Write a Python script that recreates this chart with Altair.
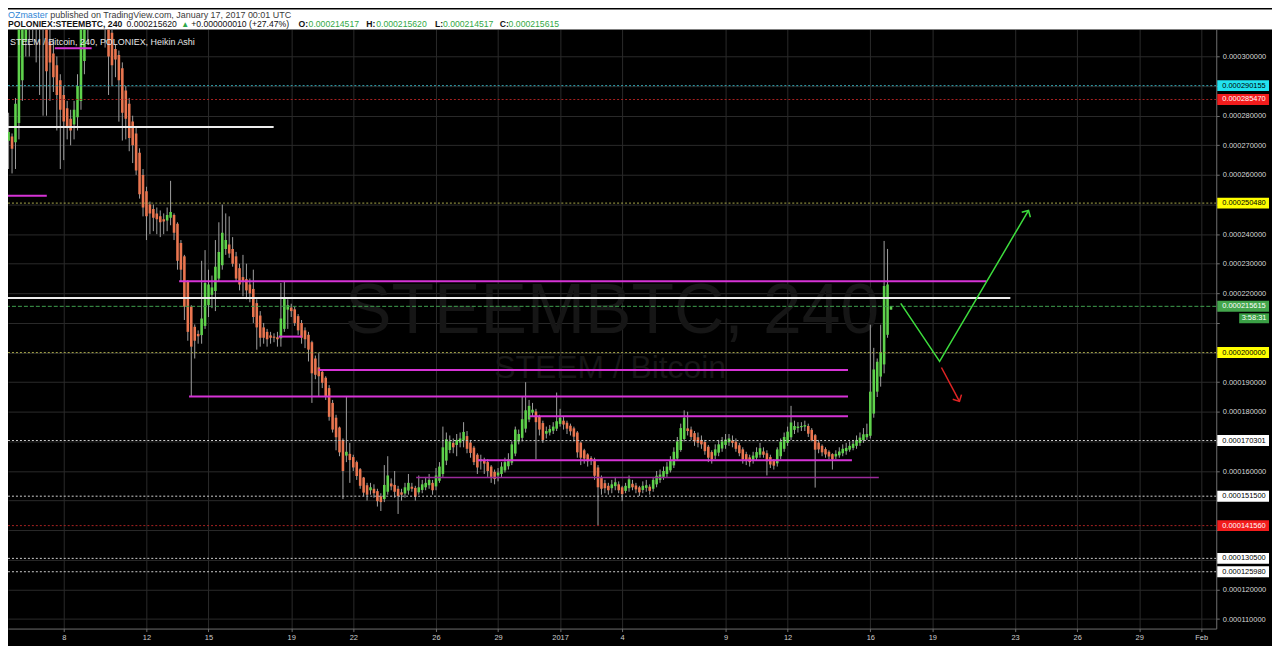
import json
import altair as alt
import pandas as pd

# ---------------- Heikin Ashi 4h candles, prices in 1e-6 BTC ----------------
O = [271.5, 273, 271, 277.5, 292, 305, 313, 319, 323, 321,
     318, 315, 305, 301, 297, 292, 287, 282.5, 279, 277,
     279.5, 285, 298.5, 309, 316, 321, 324, 323, 320, 316,
     308, 302.5, 300.5, 296, 288.5, 284, 278, 274, 267.5, 260,
     254.5, 250, 248.5, 247, 246, 245, 244.6, 245.5, 246.5, 243.5,
     237, 232.5, 224, 215.5, 208.7, 206.3, 205.9, 209, 216, 219.5,
     220.8, 225, 229.5, 235, 236.5, 235, 232.5, 228.5, 225.5, 224.8,
     223, 221.5, 216.7, 212.5, 208.5, 207, 205.8, 205.4, 205.2, 204.8,
     208, 214.5, 215.2, 214.6, 212.3, 210, 207.5, 206, 203.5, 198,
     195, 193.5, 191.5, 188, 183, 178, 174.7, 170.5, 165.2, 165.8,
     164.7, 163, 160.6, 157.8, 155.2, 153.5, 154, 153.2, 151.5, 150.5,
     153, 155.8, 155.3, 154, 152.8, 152.4, 153.4, 154.7, 154.3, 152.8,
     153.6, 154.5, 155.2, 156, 154.8, 156.7, 159, 163.5, 167.1, 169.5,
     168.8, 169.6, 170.3, 171.8, 169.6, 167.9, 165.5, 163.3, 163.6, 163,
     161.5, 159.7, 158.5, 159, 160.2, 161.6, 162.8, 165.9, 170, 171.2,
     174.3, 177.4, 179.7, 180.1, 178.3, 176.2, 172.6, 173, 173.6, 174.3,
     175.9, 177, 176.3, 175.3, 174.4, 173, 169.6, 167, 165.6, 164.4,
     163.9, 161.2, 157.8, 155.9, 155, 154.2, 154.9, 155.5, 154.5, 153.3,
     154.2, 155.7, 155.1, 154.5, 153.6, 154.3, 154.7, 154, 155.5, 157,
     158, 159, 160.2, 161.9, 164.2, 167.1, 170.8, 174.4, 174, 172.8,
     171.4, 170.5, 169.8, 168.2, 166.4, 165.2, 166.2, 167.6, 168.8, 169.7,
     170.3, 169.9, 168.7, 167.3, 165.7, 164.6, 163.8, 164.5, 165.5, 166.6,
     166, 164.7, 163.5, 162.6, 165, 167.5, 169.5, 171.4, 173.9, 174.5,
     174.8, 175, 175.2, 173.9, 172.1, 169.6, 168.5, 167.4, 166.5, 165.7,
     164.9, 165.3, 166, 166.7, 167.2, 167.8, 168.5, 169.5, 170.4, 171.4,
     171.9, 179.4, 186.8, 191.9, 196, 206, 214.517]
C = [274.5, 268.8, 284, 315, 318, 322, 325, 328, 320, 316,
     313, 295, 298, 293, 287, 282, 278, 276, 275, 282,
     290, 312, 320, 324, 326, 327, 322, 318, 313, 300,
     297, 299, 292, 281, 279, 272.5, 270, 261.5, 253.5, 249,
     246, 247, 245.5, 245, 244, 244.3, 246.5, 247.5, 240.5, 231,
     228, 215.5, 207, 202, 204, 205.5, 211.5, 223.5, 223, 222,
     229, 234, 240.5, 238, 233.5, 230, 225, 223, 224, 221,
     220, 212, 208.5, 205, 205, 204.5, 205, 205, 204.5, 211.5,
     218.4, 216, 214, 210, 207.5, 205, 204.5, 201, 193, 192.5,
     192, 189.8, 185, 178.3, 174, 171.4, 166.3, 160, 166.5, 163.7,
     161.2, 158.3, 155, 152.7, 152, 154.5, 152.5, 149.8, 149.5, 155.3,
     158.5, 154.8, 153, 151.5, 152, 154.5, 156, 154, 151.3, 154.5,
     155.5, 156, 157, 153.5, 158.5, 161.5, 168, 170.7, 170, 168,
     170.5, 171, 173.2, 167.5, 166.1, 163, 161.2, 164, 162.5, 160,
     158, 157.3, 159.5, 161.5, 163, 164, 169, 174, 172.5, 177.5,
     180.5, 182, 180.7, 176.5, 174, 170.5, 173.5, 174.2, 175, 176.8,
     178, 175.7, 174.3, 173.4, 171.6, 166.3, 164.5, 164.2, 163.3, 163.4,
     158.4, 154.5, 154, 154.2, 153.5, 155.5, 156.2, 153.5, 152.2, 155,
     157.2, 154.5, 153.8, 152.8, 155, 155.2, 153.3, 157, 158.4, 158.8,
     160, 161.5, 163.5, 166.5, 170, 174.5, 178, 173.5, 171.5, 170,
     169.5, 169, 166.7, 164.5, 164, 167.3, 169, 170, 170.6, 171,
     169.5, 167.5, 166, 164, 163.5, 163, 165.2, 166.4, 167.7, 165.5,
     163.3, 162.2, 161.8, 167.3, 169.9, 171.5, 173.3, 176.4, 175.2, 175,
     175.2, 175.5, 172.6, 170.3, 167.2, 167.3, 166.3, 165.6, 164.9, 164,
     165.8, 166.6, 167.5, 167.8, 168.5, 169.2, 170.5, 171.3, 172.4, 172.5,
     186.8, 194.3, 196.9, 200.2, 222.5, 223, 215.615]
H = [281, 274, 286, 322, 325, 330, 332, 335, 333, 326,
     322, 318, 312, 306, 300, 294, 290, 285, 282, 285,
     294, 318, 326, 330, 332, 334, 330, 326, 322, 318,
     310, 304, 302, 298, 290, 286, 280, 276, 269, 262,
     256, 251, 250, 249, 248, 247, 249, 258, 247, 244,
     238, 233, 224.5, 216, 209.5, 207.5, 231, 234.6, 228, 226,
     238, 244, 250, 247, 246, 239, 234, 230, 233, 230,
     225, 228, 218, 214, 210, 208, 207, 206.5, 207, 223.5,
     224, 218, 216.5, 215.5, 213, 211, 208.5, 207, 204, 199,
     199.8, 194, 192, 189, 184, 179, 175, 171, 185, 169.5,
     165.5, 163.5, 161, 158, 156, 156, 155.5, 154, 152.5, 162,
     165, 157.5, 160, 155, 154, 156, 159, 156, 155, 158.5,
     157, 158, 159, 157, 161, 163, 175, 173, 172, 171,
     172.5, 173, 176.5, 173.5, 170.5, 168.5, 166, 165.5, 164.5, 164,
     162, 160.5, 161, 163, 164.5, 166, 170, 175, 174, 185,
     190, 184, 183, 181, 179, 177, 175, 175.5, 176.5, 186.5,
     181, 178.5, 177, 176, 175, 173.5, 170, 167.5, 166, 165,
     164.5, 162, 158.5, 157, 156, 157, 158, 156.5, 155, 156,
     158.5, 157, 156, 155, 156.5, 157, 155.5, 158, 160, 160.5,
     161.5, 163, 165, 168, 171.5, 176, 180.5, 180, 175, 173.5,
     173, 172, 170.5, 168.8, 167, 169, 170.5, 171.5, 172.5, 172.5,
     172, 171, 169.5, 168, 166.5, 165.5, 166.5, 168, 169.5, 168,
     167, 165.5, 164, 168, 171, 173, 175, 182, 177, 176.5,
     176.5, 177, 176, 174.5, 172.5, 170.5, 169, 168, 167, 166,
     167, 168, 169, 169.5, 170, 170.5, 172, 173, 174.5, 176,
     209.4, 201.6, 198, 209.4, 237.7, 235, 215.62]
L = [262, 260.5, 262, 272, 285, 300, 300, 305, 298, 287,
     280, 280, 285, 288, 275, 262, 265, 272, 270, 272,
     275, 282, 294, 304, 312, 315, 312, 310, 303, 287,
     290, 293, 278, 271.6, 272, 268, 264, 260, 252, 246,
     238, 240, 241, 240, 239, 240, 241, 243, 238, 228,
     224, 211, 204, 185, 198, 203, 203, 208, 212, 215,
     214, 224, 228, 233, 232, 229, 224, 221, 219, 218,
     217, 210, 201, 202, 203, 202, 203, 203.5, 202, 202,
     207, 208, 212, 209, 206, 203, 201.5, 197, 183, 191,
     185, 188, 184, 177, 173, 167, 165, 150.5, 163, 156,
     160, 157, 154, 151.5, 150, 152, 151, 148, 146.5, 149.5,
     152, 153.5, 151, 145.5, 150, 151, 152, 153, 150, 152,
     152.5, 153.5, 154, 152, 153.5, 156, 158, 162, 166, 166,
     165, 168, 168, 166, 164.5, 162, 159, 160.5, 159, 158,
     156, 155.5, 156.5, 158, 159.5, 160.5, 162, 165, 169, 170,
     173, 176.5, 178.5, 164, 172, 169.5, 171, 172, 172.5, 173.5,
     175, 174, 172.5, 172, 170, 164.5, 162, 162.5, 161.5, 162,
     157, 141.5, 152, 152.5, 152, 152.5, 153.5, 152.5, 149.8, 152.5,
     153, 153.5, 152.5, 151.5, 152.5, 153, 152, 153, 154.5, 156,
     157, 158, 159.5, 161, 163.5, 166.5, 170, 172, 170.5, 168.5,
     168, 167.5, 165.5, 163, 162.5, 164, 165, 166.5, 167.5, 168.5,
     168, 166.5, 165, 162.5, 162, 161.5, 162.5, 163.5, 164.5, 164.5,
     158.5, 161, 160.5, 161.5, 164, 166.5, 168.5, 170.5, 172.5, 173,
     173.5, 173.5, 171.5, 170, 154.4, 166, 165, 164.5, 164, 160.5,
     164, 164.5, 165, 165.5, 166.5, 167, 167.5, 168.5, 169.5, 170.5,
     171, 178, 185, 188.5, 193, 205, 214.517]

T0 = 4 + 8 / 24      # first candle: Dec 5, 08:00 (days since Dec 1)
STEP = 4 / 24        # 240-minute candles

# ---------------- axes ----------------
X_MIN, X_MAX = 4.305, 62.727
Y_MIN, Y_MAX = 106.79, 309.14
X_TICKS = [7, 11, 14, 18, 21, 25, 28, 31, 34, 39, 42, 46, 49, 53, 56, 59, 62]
X_LABELS = ["8", "12", "15", "19", "22", "26", "29", "2017", "4", "9", "12",
            "16", "19", "23", "26", "29", "Feb"]
Y_TICKS = list(range(110, 301, 10))
Y_HIDDEN = [130, 140, 150, 170, 200, 210, 250, 290]   # covered by price labels

# ---------------- horizontal price levels (full width) ----------------
LEVEL_P = [290.155, 285.47, 250.48, 215.615, 200.0, 170.301, 151.5, 141.56, 130.5, 125.98]
LEVEL_TEXT = ["0.000290155", "0.000285470", "0.000250480", "0.000215615", "0.000200000",
              "0.000170301", "0.000151500", "0.000141560", "0.000130500", "0.000125980"]
LEVEL_LINE = ["#34a9b6", "#a82222", "#a8a84a", "#3f9f4f", "#a8a84a",
              "#cfcfcf", "#cfcfcf", "#a82222", "#cfcfcf", "#cfcfcf"]
LEVEL_BOX = ["#22e2f0", "#f21c1c", "#ffff00", "#43a64c", "#ffff00",
             "#ffffff", "#ffffff", "#f21c1c", "#ffffff", "#ffffff"]
LEVEL_FG = ["#000000", "#ffffff", "#000000", "#ffffff", "#000000",
            "#000000", "#000000", "#ffffff", "#000000", "#000000"]
LEVEL_DASHED = [False, False, False, True, False, False, False, False, False, False]

# ---------------- drawn segments ----------------
SEG_T1 = [4.2, 4.2, 6.57, 4.2, 12.58, 17.39, 19.32, 13.06, 29.52, 27.02, 24.04]
SEG_T2 = [17.15, 52.77, 8.35, 6.18, 51.62, 18.5, 44.92, 44.92, 44.92, 45.11, 46.41]
SEG_P = [276.2, 218.4, 302.8, 253.0, 224.1, 205.4, 194.1, 185.2, 178.5, 163.6, 157.8]
SEG_COLOR = ["#ececec", "#ececec", "#d633d6", "#d633d6", "#d633d6", "#d633d6",
             "#d633d6", "#d633d6", "#d633d6", "#d633d6", "#9a2a9a"]
SEG_W = [2, 2, 2, 2, 2, 2, 2, 2, 2, 2, 1.5]

GREEN_T = [47.47, 49.35, 53.65]
GREEN_P = [216.6, 197.0, 248.0]
RED_T = [49.44, 50.31]
RED_P = [194.96, 183.53]
ARROW_T = [53.65, 50.31]
ARROW_P = [248.0, 183.53]
ARROW_ANGLE = [30, 152]
ARROW_COLOR = ["#3ddc3d", "#e02424"]

GREEN = "#5fd24c"
ORANGE = "#ea7650"
WICK = "#a0a0a0"
FONT = "Liberation Sans, Arial, DejaVu Sans"

W, HGT = 1214, 602

candles = pd.DataFrame({"t": [T0 + i * STEP for i in range(len(O))],
                        "o": O, "c": C, "h": H, "l": L})

xs = alt.Scale(domain=[X_MIN, X_MAX], nice=False, zero=False)
ys = alt.Scale(domain=[Y_MIN, Y_MAX], nice=False, zero=False)
label_expr = "%s[indexof(%s, datum.value)]" % (json.dumps(X_LABELS), json.dumps(X_TICKS))
y_label_expr = "indexof(%s, datum.value) >= 0 ? '' : format(datum.value/1000000, '.9f')" % json.dumps(Y_HIDDEN)
xaxis = alt.Axis(values=X_TICKS, labelExpr=label_expr, grid=True, gridColor="#2a2a2a",
                 domainColor="#707070", tickColor="#707070", tickSize=3, labelPadding=2,
                 labelColor="#cfcfcf", labelFontSize=7.5, labelFont=FONT, title=None,
                 labelOverlap=False, labelFlush=False, zindex=0)
yaxis = alt.Axis(orient="right", values=Y_TICKS, labelExpr=y_label_expr,
                 grid=True, gridColor="#2a2a2a", domainColor="#707070", tickColor="#707070",
                 tickSize=3, labelPadding=3, labelColor="#d6d6d6", labelFontSize=7.5,
                 labelFont=FONT, title=None, labelOverlap=False, labelFlush=False, zindex=0)


def X(f):
    return alt.X(f, type="quantitative", scale=xs, axis=xaxis)


def Y(f):
    return alt.Y(f, type="quantitative", scale=ys, axis=yaxis)


one = pd.DataFrame({"k": [0]})
layers = []

# header background
layers.append(alt.Chart(one).mark_rect(color="#ffffff").encode(
    x=alt.value(0), x2=alt.value(W + 56), y=alt.value(-20), y2=alt.value(0)))

# watermark
layers.append(alt.Chart(one).mark_text(text="STEEMBTC, 240", fontSize=70, font=FONT,
                                       color="#161616", align="center", baseline="alphabetic")
              .encode(x=alt.value(607), y=alt.value(305)))
layers.append(alt.Chart(one).mark_text(text="STEEM / Bitcoin", fontSize=32, font=FONT,
                                       color="#161616", align="center", baseline="alphabetic")
              .encode(x=alt.value(605), y=alt.value(350)))

# candles
layers.append(alt.Chart(candles).mark_rule(color=WICK, strokeWidth=1, clip=True).encode(
    x=X("t"), y=Y("l"), y2="h"))
layers.append(alt.Chart(candles).mark_rule(strokeWidth=2.6, clip=True, strokeCap="butt").encode(
    x=X("t"), y=Y("o"), y2="c",
    color=alt.condition("datum.c >= datum.o", alt.value(GREEN), alt.value(ORANGE))))

# levels
lev = pd.DataFrame({"p": LEVEL_P, "line": LEVEL_LINE, "box": LEVEL_BOX, "fg": LEVEL_FG,
                    "txt": LEVEL_TEXT, "dashed": LEVEL_DASHED})
layers.append(alt.Chart(lev[~lev["dashed"]]).mark_rule(strokeDash=[2, 2], strokeWidth=1, clip=True)
              .encode(y=Y("p"), color=alt.Color("line:N", scale=None)))
layers.append(alt.Chart(lev[lev["dashed"]]).mark_rule(strokeDash=[4, 2], strokeWidth=1, clip=True)
              .encode(y=Y("p"), color=alt.Color("line:N", scale=None)))

# drawn segments
seg = pd.DataFrame({"t1": SEG_T1, "t2": SEG_T2, "p": SEG_P, "col": SEG_COLOR, "w": SEG_W})
layers.append(alt.Chart(seg).mark_rule(clip=True).encode(
    x=X("t1"), x2="t2", y=Y("p"), color=alt.Color("col:N", scale=None),
    strokeWidth=alt.StrokeWidth("w:Q", scale=None)))

# arrows
g = pd.DataFrame({"t": GREEN_T, "p": GREEN_P, "i": range(len(GREEN_T))})
layers.append(alt.Chart(g).mark_line(color="#3ddc3d", strokeWidth=1.5, clip=True).encode(
    x=X("t"), y=Y("p"), order="i:Q"))
r = pd.DataFrame({"t": RED_T, "p": RED_P, "i": range(len(RED_T))})
layers.append(alt.Chart(r).mark_line(color="#e02424", strokeWidth=1.5, clip=True).encode(
    x=X("t"), y=Y("p"), order="i:Q"))
ah = pd.DataFrame({"t": ARROW_T, "p": ARROW_P, "a": ARROW_ANGLE, "col": ARROW_COLOR})
layers.append(alt.Chart(ah).mark_point(shape="M -1 1 L 0 0 L 1 1", filled=False, size=100,
                                       strokeWidth=1.5, opacity=1).encode(
    x=X("t"), y=Y("p"), angle=alt.Angle("a:Q", scale=None), color=alt.Color("col:N", scale=None)))

# price label boxes on the right axis
layers.append(alt.Chart(lev).mark_rect(yOffset=-5.5, y2Offset=5.5).encode(
    x=alt.value(W + 1), x2=alt.value(W + 53), y=Y("p"), y2="p",
    color=alt.Color("box:N", scale=None)))
layers.append(alt.Chart(lev).mark_text(align="left", baseline="middle", fontSize=7.5, font=FONT)
              .encode(x=alt.value(W + 6), y=Y("p"), text="txt:N",
                      color=alt.Color("fg:N", scale=None)))
cd = pd.DataFrame({"p": [215.615], "txt": ["3:58:31"]})
layers.append(alt.Chart(cd).mark_rect(yOffset=7, y2Offset=17, color="#3a9f45").encode(
    x=alt.value(W + 23), x2=alt.value(W + 53), y=Y("p"), y2="p"))
layers.append(alt.Chart(cd).mark_text(align="center", baseline="middle", fontSize=7.5, font=FONT,
                                      color="#ffffff", dy=12).encode(
    x=alt.value(W + 38), y=Y("p"), text="txt:N"))

# legend text inside the plot
layers.append(alt.Chart(one).mark_text(text="STEEM / Bitcoin, 240, POLONIEX, Heikin Ashi",
                                       fontSize=9, font=FONT, color="#e6e6e6", align="left",
                                       baseline="alphabetic")
              .encode(x=alt.value(2), y=alt.value(16)))

# header texts
HEADER = [
    ("OZmaster", 0, -11, "#2f86d6", "normal", 9),
    ("published on TradingView.com, January 17, 2017 00:01 UTC", 42.5, -11, "#3a3a3a", "normal", 9),
    ("POLONIEX:STEEMBTC, 240", 0, -2, "#111111", "bold", 8.7),
    ("0.000215620", 119, -2, "#111111", "normal", 8.7),
    ("▲", 174, -2, "#2fa84a", "normal", 8),
    ("+0.000000010 (+27.47%)", 184, -2, "#111111", "normal", 8.7),
    ("O:", 292, -2, "#111111", "bold", 8.7),
    ("0.000214517", 302, -2, "#32a846", "normal", 8.7),
    ("H:", 360, -2, "#111111", "bold", 8.7),
    ("0.000215620", 370, -2, "#32a846", "normal", 8.7),
    ("L:", 429, -2, "#111111", "bold", 8.7),
    ("0.000214517", 437, -2, "#32a846", "normal", 8.7),
    ("C:", 494, -2, "#111111", "bold", 8.7),
    ("0.000215615", 503, -2, "#32a846", "normal", 8.7),
]
for txt, hx, hy, col, wt, sz in HEADER:
    layers.append(alt.Chart(one).mark_text(text=txt, fontSize=sz, font=FONT, color=col,
                                           fontWeight=wt, align="left", baseline="alphabetic")
                  .encode(x=alt.value(hx), y=alt.value(hy)))

chart = alt.layer(*layers).properties(
    width=W, height=HGT,
    padding={"left": 0, "top": 20, "right": 56, "bottom": 16},
    autosize=alt.AutoSizeParams(type="none"),
    background="#000000",
).configure_view(strokeWidth=0)

chart.save("out.html", embed_options={"renderer": "svg", "actions": False})
